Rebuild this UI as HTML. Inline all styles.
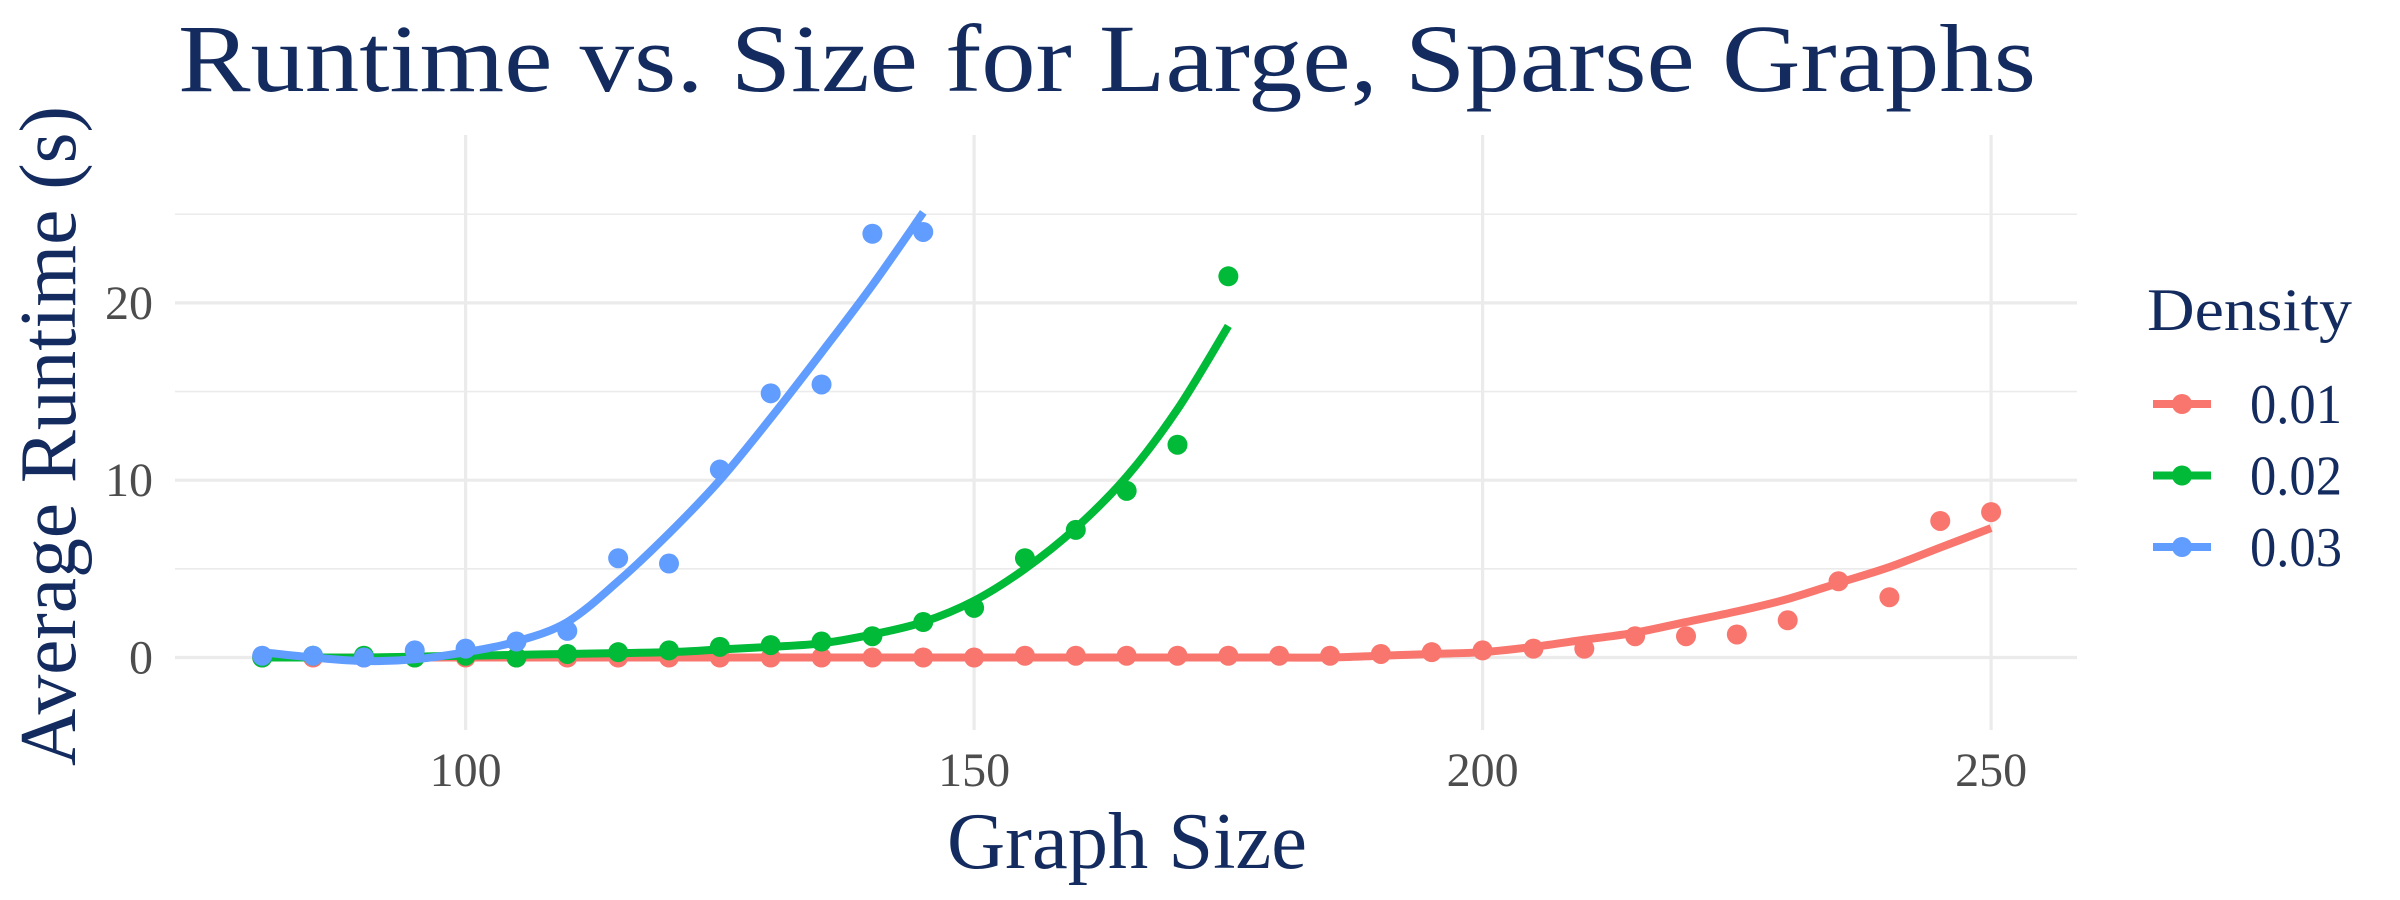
<!DOCTYPE html>
<html><head><meta charset="utf-8"><style>
html,body{margin:0;padding:0;background:#fff;}
svg{display:block;font-family:"Liberation Serif",serif;}
</style></head><body>
<svg id="chart" width="2400" height="900" viewBox="0 0 2400 900">
<rect width="2400" height="900" fill="#fff"/>
<g id="grid"></g>
<g id="series"></g>
<g id="axes"></g>
<text x="178" y="91" font-size="96" fill="#132b5e" textLength="1858" lengthAdjust="spacingAndGlyphs">Runtime vs. Size for Large, Sparse Graphs</text>
<text x="1127" y="868" font-size="80" fill="#132b5e" text-anchor="middle" textLength="360" lengthAdjust="spacingAndGlyphs">Graph Size</text>
<text transform="translate(75,436) rotate(-90)" font-size="80" fill="#132b5e" text-anchor="middle" textLength="660" lengthAdjust="spacingAndGlyphs">Average Runtime (s)</text>
<g id="legend"></g>
</svg>
<script>
const xTicks=[100,150,200,250];
const yTicks=[0,10,20];
const yMinor=[5,15,25];
const xs=[80,85,90,95,100,105,110,115,120,125,130,135,140,145,150,155,160,165,170,175,180,185,190,195,200,205,210,215,220,225,230,235,240,245,250];
const red=[0,0,0,0,0,0,0,0,0,0,0,0,0,0,0,0.1,0.1,0.1,0.1,0.1,0.1,0.1,0.2,0.3,0.4,0.5,0.5,1.2,1.2,1.3,2.1,4.3,3.4,7.7,8.2];
const green=[0,0.1,0.1,0,0.1,0,0.2,0.3,0.4,0.6,0.7,0.9,1.2,2.0,2.8,5.6,7.2,9.4,12.0,21.5];
const blue=[0.1,0.1,0,0.4,0.5,0.9,1.5,5.6,5.3,10.6,14.9,15.4,23.9,24.0];
const redFit=[0,0,0,0,0,0,0,0,0,0,0,0,0,0,0,0,0,0,0,0,0,0,0.1,0.2,0.3,0.6,1.0,1.4,2.0,2.6,3.3,4.2,5.1,6.2,7.3];
const greenFit=[0,0,0,0.05,0.1,0.15,0.2,0.25,0.3,0.45,0.6,0.8,1.3,2.0,3.2,5.0,7.3,10.2,14.0,18.7];
const blueFit=[0.3,0.0,-0.2,-0.1,0.3,0.9,2.0,4.3,7.0,10.0,13.5,17.2,21.0,25.1];
const labels=["0.01","0.02","0.03"];
const colors=["#F8766D","#00BA38","#619CFF"];

const X=v=>465.6+(v-100)*10.17;
const Y=v=>657.5-v*17.73;
const NS="http://www.w3.org/2000/svg";
function mk(tag,attrs,parent){const e=document.createElementNS(NS,tag);for(const k in attrs)e.setAttribute(k,attrs[k]);parent.appendChild(e);return e;}
const grid=document.getElementById('grid'),ser=document.getElementById('series'),axes=document.getElementById('axes'),leg=document.getElementById('legend');
const L=175,R=2077,T=135,B=730;
yMinor.forEach(v=>{const l=mk('line',{x1:L,x2:R,y1:Y(v),y2:Y(v),stroke:'#ebebeb','stroke-width':1.6},grid);

});
yTicks.forEach(v=>{const l=mk('line',{x1:L,x2:R,y1:Y(v),y2:Y(v),stroke:'#ebebeb','stroke-width':3.2},grid);


const t=mk('text',{x:153,y:Y(v)+16,'font-size':48,fill:'#4d4d4d','text-anchor':'end'},axes);t.textContent=v;

});
xTicks.forEach(v=>{const l=mk('line',{x1:X(v),x2:X(v),y1:T,y2:B,stroke:'#ebebeb','stroke-width':3.2},grid);


const t=mk('text',{x:X(v),y:786,'font-size':48,fill:'#4d4d4d','text-anchor':'middle'},axes);t.textContent=v;

});
function smooth(pts){let d='M'+pts[0][0]+','+pts[0][1];for(let i=0;i<pts.length-1;i++){const p0=pts[i-1]||pts[i],p1=pts[i],p2=pts[i+1],p3=pts[i+2]||p2;
d+=' C'+(p1[0]+(p2[0]-p0[0])/6)+','+(p1[1]+(p2[1]-p0[1])/6)+' '+(p2[0]-(p3[0]-p1[0])/6)+','+(p2[1]-(p3[1]-p1[1])/6)+' '+p2[0]+','+p2[1];}return d;}
[[red,redFit],[green,greenFit],[blue,blueFit]].forEach(([pts,fit],i)=>{
 const g=mk('g',{},ser);
 
 
 pts.forEach((v,j)=>{const c=mk('circle',{cx:X(xs[j]),cy:Y(v),r:10,fill:colors[i]},g);
 
 });
 const p=mk('path',{d:smooth(fit.map((v,j)=>[X(xs[j]),Y(v)])),fill:'none',stroke:colors[i],'stroke-width':8,'stroke-linecap':'butt'},g);
 
 
});
const lt=mk('text',{x:2147,y:330,'font-size':60,fill:'#132b5e',textLength:205,lengthAdjust:'spacingAndGlyphs'},leg);lt.textContent='Density';


labels.forEach((s,i)=>{const y=404+i*71.5;const g=mk('g',{},leg);


mk('line',{x1:2153,x2:2211,y1:y,y2:y,stroke:colors[i],'stroke-width':8},g);
mk('circle',{cx:2182,cy:y,r:10,fill:colors[i]},g);
const t=mk('text',{x:2250,y:y+19,'font-size':56,fill:'#132b5e',textLength:92,lengthAdjust:'spacingAndGlyphs'},g);t.textContent=s;});
</script>
</body></html>
